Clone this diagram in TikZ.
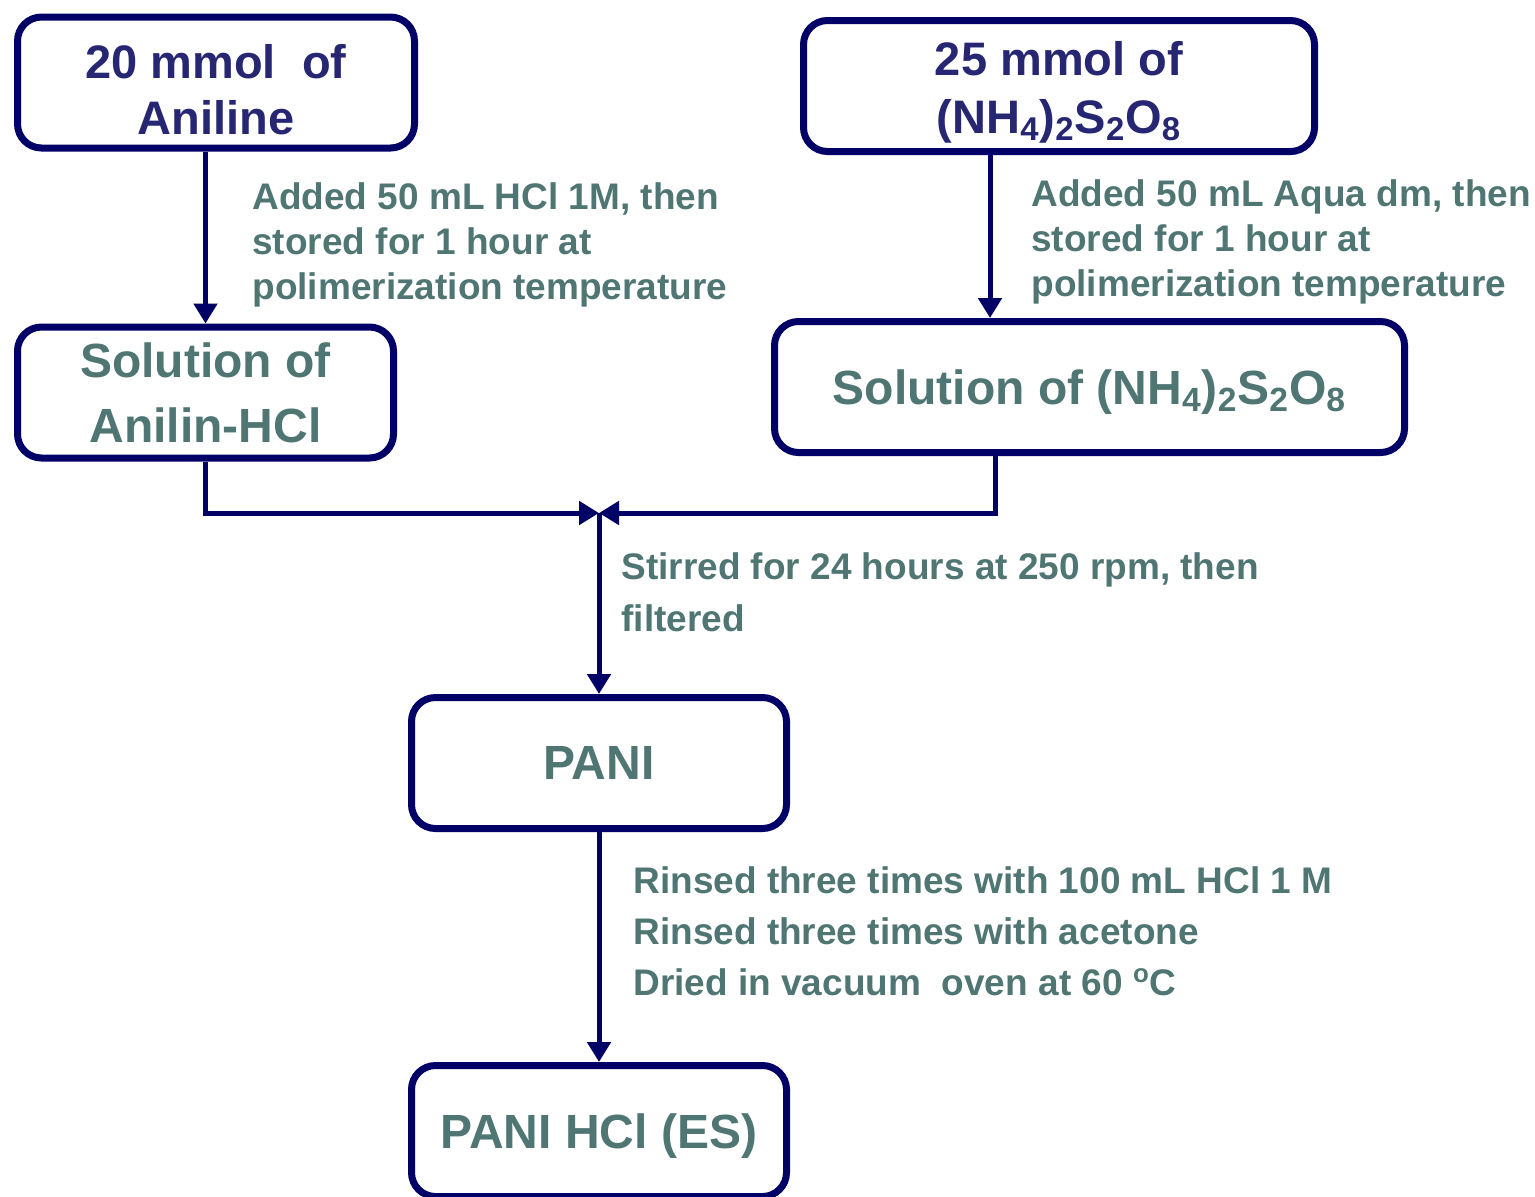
\documentclass[tikz,border=0pt]{standalone}
\usepackage{fontspec}
\setmainfont{Liberation Sans}
\usetikzlibrary{arrows.meta,positioning,calc}
\definecolor{cEdge}{HTML}{000066}
\definecolor{cHead}{HTML}{262672}
\definecolor{cNote}{HTML}{4F7673}
\newcommand{\padtop}[1]{\rule{0pt}{#1}}

\begin{document}
\begin{tikzpicture}[
  x=0.5pt, y=-0.5pt,
  font=\bfseries,
  box/.style 2 args={draw=cEdge, fill=white, rounded corners=12pt, line width=3.5pt,
                     align=center, text=#1, minimum width=#2, minimum height=65.5pt,
                     inner sep=0pt},
  flow/.style={-{Triangle[length=10pt,width=11.5pt]}, line width=2.5pt, draw=cEdge},
  note/.style={anchor=west, align=left, text=cNote, inner sep=0pt},
]
\useasboundingbox (0,0) rectangle (1535,1196);

% ---------------- starting materials ----------------
\node[box={cHead}{198.5pt}, font=\bfseries\fontsize{23.5}{28}\selectfont] (ani) at (216,82.5)
  {\padtop{24pt}20 mmol\ \ of\\ Aniline};
\node[box={cHead}{255.5pt}, font=\bfseries\fontsize{23.5}{29}\selectfont] (aps) at (1059,86)
  {\padtop{23pt}25 mmol of\\ (NH\textsubscript{4})\textsubscript{2}S\textsubscript{2}O\textsubscript{8}};

% ---------------- solutions ----------------
\node[box={cNote}{188pt}, font=\bfseries\fontsize{24}{32.5}\selectfont] (aniSol) at (205.5,392.5)
  {Solution of\\ Anilin-HCl};
\node[box={cNote}{315pt}, font=\bfseries\fontsize{24}{29}\selectfont] (apsSol) at (1089.5,387)
  {\padtop{22.5pt}Solution of (NH\textsubscript{4})\textsubscript{2}S\textsubscript{2}O\textsubscript{8}};

\draw[flow] (aniSol.north |- ani.south) -- (aniSol.north);
\draw[flow] ([xshift=-34.5pt]aps.south) -- ([xshift=-34.5pt]aps.south |- apsSol.north);

\node[note, font=\bfseries\fontsize{18.5}{22.5}\selectfont] (addHcl) at (252,245)
  {Added 50 mL HCl 1M, then\\ stored for 1 hour at\\ polimerization temperature};
\node[note, font=\bfseries\fontsize{18.5}{22.5}\selectfont] (addAqua) at (1031,242)
  {Added 50 mL Aqua dm, then\\ stored for 1 hour at\\ polimerization temperature};

% ---------------- mixing ----------------
\coordinate (mrg) at (599,513);
\draw[flow] (aniSol.south) |- (mrg);
\draw[flow] ([xshift=-47.25pt]apsSol.south) |- (mrg);

\node[box={cNote}{187.5pt}, font=\bfseries\fontsize{24}{29}\selectfont] (pani) at (599,763)
  {PANI};
\draw[flow] (mrg) -- (pani.north);

\node[note, font=\bfseries\fontsize{18.5}{26}\selectfont] (stir) at (621,592)
  {Stirred for 24 hours at 250 rpm, then\\ filtered};

% ---------------- washing ----------------
\node[box={cNote}{187.5pt}, font=\bfseries\fontsize{24}{29}\selectfont] (paniEs) at (599,1131)
  {\padtop{22.5pt}PANI HCl (ES)};
\draw[flow] (pani) -- (paniEs);

\node[note, font=\bfseries\fontsize{18.5}{25.5}\selectfont] (rinse) at (633,931)
  {Rinsed three times with 100 mL HCl 1 M\\ Rinsed three times with acetone\\
   Dried in vacuum\ \ oven at 60 \textsuperscript{o}C};

\end{tikzpicture}
\end{document}
